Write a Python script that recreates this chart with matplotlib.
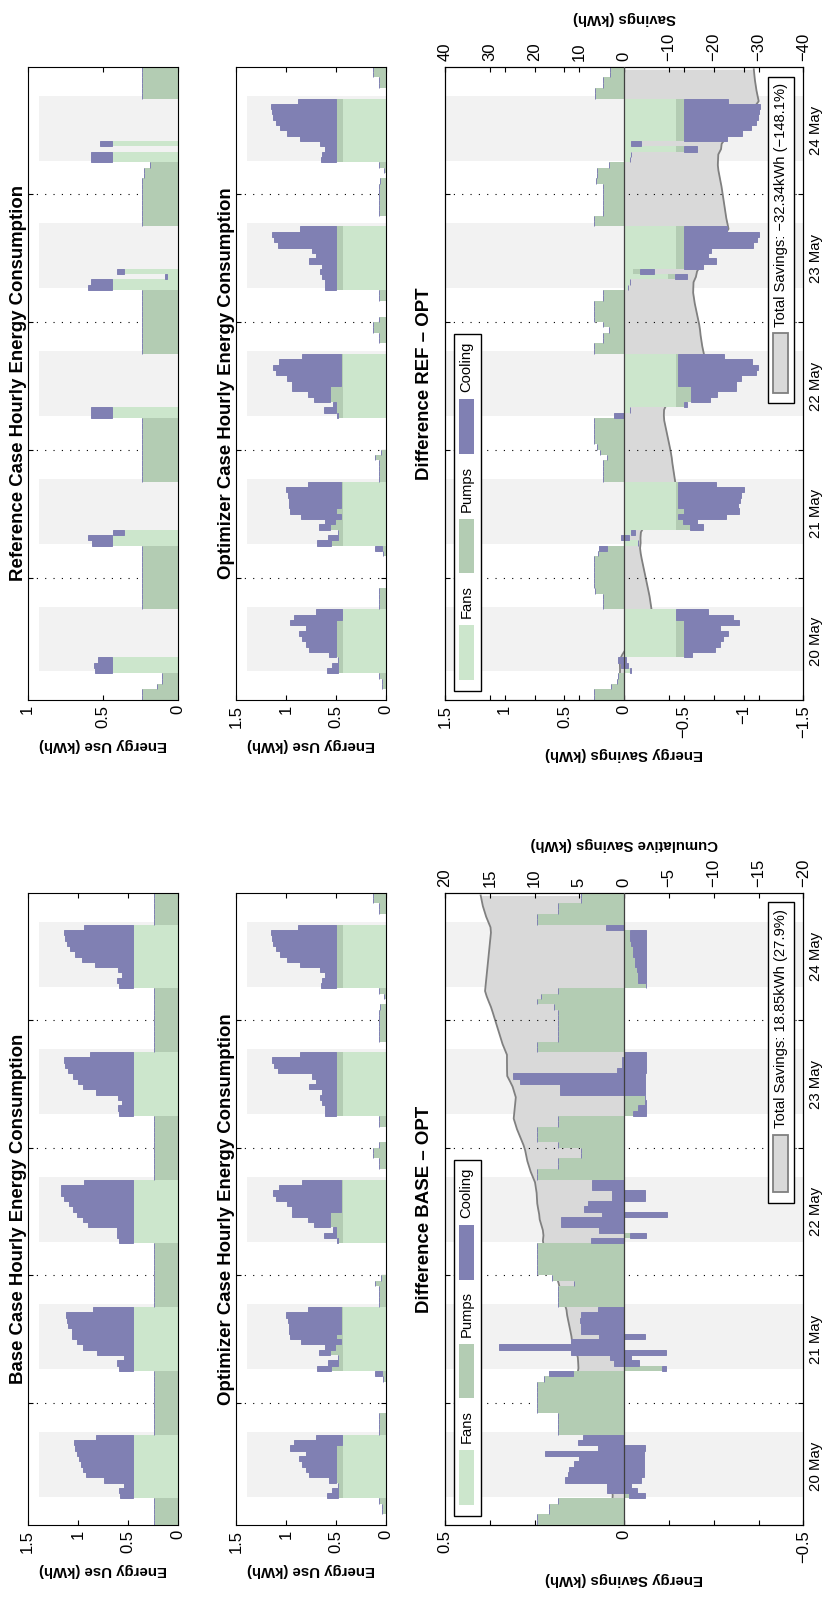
import numpy as np
import matplotlib
matplotlib.use("Agg")
import matplotlib.pyplot as plt
from matplotlib.patches import Rectangle

plt.rcParams['font.family'] = ['Liberation Sans', 'DejaVu Sans']
plt.rcParams['axes.unicode_minus'] = True

FANS = '#cce6cc'
PUMPS = '#b3ccb3'
COOL = '#8080b3'
SHADE = '#f2f2f2'
AREA = '#d9d9d9'
AREA_LINE = '#808080'

# ---- data: one value per hour, 5 days x 24 h (one row per day) ----
day_labels = ['20 May', '21 May', '22 May', '23 May', '24 May']
day_mid = [12, 36, 60, 84, 108]
midnights = [24, 48, 72, 96]
occ_start = [6.35, 30.35, 54.35, 78.35, 102.35]
occ_end = [18.55, 42.55, 66.55, 90.55, 114.55]

base_fans = [
    0, 0, 0, 0, 0, 0, .44, .44, .44, .44, .44, .44, .44, .44, .44, .44, .44, .44, 0, 0, 0, 0, 0, 0,
    0, 0, 0, 0, 0, 0, .44, .44, .44, .44, .44, .44, .44, .44, .44, .44, .44, .44, 0, 0, 0, 0, 0, 0,
    0, 0, 0, 0, 0, 0, .44, .44, .44, .44, .44, .44, .44, .44, .44, .44, .44, .44, 0, 0, 0, 0, 0, 0,
    0, 0, 0, 0, 0, 0, .44, .44, .44, .44, .44, .44, .44, .44, .44, .44, .44, .44, 0, 0, 0, 0, 0, 0,
    0, 0, 0, 0, 0, 0, .44, .44, .44, .44, .44, .44, .44, .44, .44, .44, .44, .44, 0, 0, 0, 0, 0, 0]
base_pumps = [
    .245, .245, .245, .245, .245, .245, .01, .01, .01, .01, .01, .01, .01, .01, .01, .01, .01, .01, .245, .245, .245, .245, .245, .245,
    .245, .245, .245, .245, .245, .245, .01, .01, .01, .01, .01, .01, .01, .01, .01, .01, .01, .01, .245, .245, .245, .245, .245, .245,
    .245, .245, .245, .245, .245, .245, .01, .01, .01, .01, .01, .01, .01, .01, .01, .01, .01, .01, .245, .245, .245, .245, .245, .245,
    .245, .245, .245, .245, .245, .245, .01, .01, .01, .01, .01, .01, .01, .01, .01, .01, .01, .01, .245, .245, .245, .245, .245, .245,
    .245, .245, .245, .245, .245, .245, .01, .01, .01, .01, .01, .01, .01, .01, .01, .01, .01, .01, .245, .245, .245, .245, .245, .245]
base_cool = [
    0, 0, 0, 0, 0, 0, .13, .14, .09, .29, .47, .50, .52, .54, .56, .58, .59, .37, 0, 0, 0, 0, 0, 0,
    0, 0, 0, 0, 0, 0, .14, .16, .09, .36, .50, .56, .61, .61, .65, .66, .67, .40, 0, 0, 0, 0, 0, 0,
    0, 0, 0, 0, 0, 0, .14, .16, .16, .45, .50, .56, .60, .64, .69, .72, .72, .49, 0, 0, 0, 0, 0, 0,
    0, 0, 0, 0, 0, 0, .14, .15, .11, .15, .37, .50, .55, .60, .65, .68, .69, .43, 0, 0, 0, 0, 0, 0,
    0, 0, 0, 0, 0, 0, .14, .16, .11, .15, .38, .51, .58, .63, .66, .68, .69, .49, 0, 0, 0, 0, 0, 0]

opt_fans = [
    0, 0, 0, 0, 0, 0, .433, .433, .433, .433, .433, .433, .433, .433, .433, .433, .433, .433, 0, 0, 0, 0, 0, 0,
    0, 0, 0, 0, 0, 0, .433, .433, .433, .433, .433, .433, .433, .433, .433, .433, .433, .433, 0, 0, 0, 0, 0, 0,
    0, 0, 0, 0, 0, 0, .433, .433, .433, .433, .433, .433, .433, .433, .433, .433, .433, .433, 0, 0, 0, 0, 0, 0,
    0, 0, 0, 0, 0, 0, .433, .433, .433, .433, .433, .433, .433, .433, .433, .433, .433, .433, 0, 0, 0, 0, 0, 0,
    0, 0, 0, 0, 0, 0, .433, .433, .433, .433, .433, .433, .433, .433, .433, .433, .433, .433, 0, 0, 0, 0, 0, 0]
opt_pumps = [
    0, 0, 0, .04, .04, .065, .043, .043, .043, .067, .067, .067, .067, .067, .067, .067, .005, .005, .066, .066, .066, .066, 0, 0,
    0, 0, 0, 0, .025, .04, .117, .05, .047, .127, .077, .017, .068, .017, .017, .017, .017, .017, .066, .066, .066, .066, .11, .05,
    0, 0, 0, 0, 0, 0, .047, .065, .065, .125, .125, .125, .017, .017, .017, .017, .017, .017, 0, 0, .066, .066, .13, .13,
    .066, 0, 0, 0, .066, .066, .07, .07, .07, .07, .07, .07, .07, .07, .07, .07, .07, .07, 0, 0, .066, .066, .066, .066,
    .066, .066, .055, 0, .018, .066, .07, .07, .07, .07, .07, .07, .07, .07, .07, .07, .07, .07, 0, 0, .066, .066, .13, .13]
opt_cool = [
    0, 0, 0, 0, 0, 0, .117, .064, .004, .07, .27, .30, .34, .37, .30, .46, .482, .262, 0, 0, 0, 0, 0, 0,
    0, 0, 0, 0, 0, .065, .14, .097, 0, .11, .10, .40, .459, .52, .52, .53, .55, .33, 0, 0, 0, 0, 0, 0,
    0, 0, 0, 0, 0, 0, .01, .122, .032, .162, .222, .382, .49, .54, .65, .68, .62, .39, 0, 0, 0, 0, 0, 0,
    0, 0, 0, 0, 0, 0, .107, .107, .137, .157, .137, .267, .197, .237, .577, .617, .637, .357, 0, 0, 0, 0, 0, 0,
    0, 0, 0, 0, 0, 0, .147, .137, .107, .157, .357, .487, .557, .597, .627, .637, .647, .377, 0, 0, 0, 0, 0, 0]

ref_fans = [
    0, 0, 0, 0, 0, 0, .44, .44, .44, 0, 0, 0, 0, 0, 0, 0, 0, 0, 0, 0, 0, 0, 0, 0,
    0, 0, 0, 0, 0, 0, .44, .44, .36, 0, 0, 0, 0, 0, 0, 0, 0, 0, 0, 0, 0, 0, 0, 0,
    0, 0, 0, 0, 0, 0, .44, .44, 0, 0, 0, 0, 0, 0, 0, 0, 0, 0, 0, 0, 0, 0, 0, 0,
    0, 0, 0, 0, 0, 0, .44, .44, .075, .36, 0, 0, 0, 0, 0, 0, 0, 0, 0, 0, 0, 0, 0, 0,
    0, 0, 0, 0, 0, 0, .44, .44, 0, .44, 0, 0, 0, 0, 0, 0, 0, 0, 0, 0, 0, 0, 0, 0]
ref_pumps = [
    .24, .24, .24, .14, .11, .11, 0, 0, 0, 0, 0, 0, 0, 0, 0, 0, 0, 0, .24, .24, .24, .24, .24, .24,
    .24, .24, .24, .24, .24, .24, 0, 0, 0, 0, 0, 0, 0, 0, 0, 0, 0, 0, .24, .24, .24, .24, .24, .24,
    .24, .24, .24, .24, .24, .24, 0, 0, 0, 0, 0, 0, 0, 0, 0, 0, 0, 0, .24, .24, .24, .24, .24, .24,
    .24, .24, .24, .24, .24, .24, 0, 0, 0, 0, 0, 0, 0, 0, 0, 0, 0, 0, .24, .24, .24, .24, .24, .24,
    .24, .24, .24, .23, .23, .19, 0, 0, 0, 0, 0, 0, 0, 0, 0, 0, 0, 0, .24, .24, .24, .24, .24, .24]
ref_cool = [
    0, 0, 0, 0, 0, 0, .11, .12, .09, 0, 0, 0, 0, 0, 0, 0, 0, 0, 0, 0, 0, 0, 0, 0,
    0, 0, 0, 0, 0, 0, .13, .16, .07, 0, 0, 0, 0, 0, 0, 0, 0, 0, 0, 0, 0, 0, 0, 0,
    0, 0, 0, 0, 0, 0, .14, .14, 0, 0, 0, 0, 0, 0, 0, 0, 0, 0, 0, 0, 0, 0, 0, 0,
    0, 0, 0, 0, 0, 0, .16, .14, .01, .05, 0, 0, 0, 0, 0, 0, 0, 0, 0, 0, 0, 0, 0, 0,
    0, 0, 0, 0, 0, 0, .14, .14, 0, .08, 0, 0, 0, 0, 0, 0, 0, 0, 0, 0, 0, 0, 0, 0]

# difference BASE - OPT per component
dbase_fans = [
    0, 0, 0, 0, 0, 0, 0, 0, 0, 0, 0, 0, 0, 0, 0, 0, 0, 0, 0, 0, 0, 0, 0, 0,
    0, 0, 0, 0, 0, 0, 0, 0, 0, 0, 0, 0, 0, 0, 0, 0, 0, 0, 0, 0, 0, 0, 0, 0,
    0, 0, 0, 0, 0, 0, 0, 0, 0, 0, 0, 0, 0, 0, 0, 0, 0, 0, 0, 0, 0, 0, 0, 0,
    0, 0, 0, 0, 0, 0, 0, 0, 0, 0, 0, 0, 0, 0, 0, 0, 0, 0, 0, 0, 0, 0, 0, 0,
    0, 0, 0, 0, 0, 0, 0, 0, 0, 0, 0, 0, 0, 0, 0, 0, 0, 0, 0, 0, 0, 0, 0, 0]
dbase_pumps = [
    .244, .244, .244, .21, .21, .184, -.014, -.035, -.018, -.046, -.054, -.054, -.054, -.054, -.056, -.058, 0, 0, .184, .184, .184, .184, .244, .244,
    .244, .244, .244, .244, .225, .209, -.105, -.042, -.018, -.117, 0, 0, -.058, 0, 0, 0, 0, 0, .184, .184, .184, .184, .139, .2,
    .244, .244, .244, .244, .244, .244, 0, -.017, 0, 0, 0, -.119, 0, 0, -.058, -.058, 0, 0, .244, .244, .184, .184, .121, .121,
    .184, .244, .244, .244, .184, .184, -.025, -.04, -.058, -.058, -.058, -.058, -.058, -.058, -.06, -.06, -.06, -.06, .244, .244, .184, .184, .184, .184,
    .184, .184, .195, .244, .232, .184, -.06, -.04, -.04, -.035, -.03, -.03, -.026, -.026, -.02, -.017, -.017, 0, .244, .244, .184, .184, .121, .121]
dbase_cool = [
    0, 0, 0, 0, 0, 0, -.044, .084, .067, .211, .21, .207, .194, .179, .277, .13, .128, .114, 0, 0, 0, 0, 0, 0,
    0, 0, 0, 0, 0, -.065, -.012, .07, .058, .265, .348, .148, .128, .12, .12, .123, .12, .072, 0, 0, 0, 0, 0, 0,
    0, 0, 0, 0, 0, 0, .092, -.045, .07, .175, .175, .18, .112, .1, .093, .093, .09, .09, 0, 0, 0, 0, 0, 0,
    0, 0, 0, 0, 0, 0, -.035, -.02, -.002, 0, .237, .237, .348, .368, .08, .065, .065, .06, 0, 0, 0, 0, 0, 0,
    0, 0, 0, 0, 0, 0, 0, -.02, -.02, -.025, -.03, -.03, -.034, -.034, -.04, -.043, -.043, .05, 0, 0, 0, 0, 0, 0]

# difference REF - OPT per component
dref_fans = [
    0, 0, 0, 0, 0, 0, -.05, 0, 0, -.433, -.433, -.433, -.433, -.433, -.433, -.433, -.433, -.433, 0, 0, 0, 0, 0, 0,
    0, 0, 0, 0, 0, 0, -.12, 0, -.06, -.433, -.433, -.433, -.433, -.433, -.433, -.433, -.433, -.433, 0, 0, 0, 0, 0, 0,
    0, 0, 0, 0, 0, 0, 0, -.05, -.433, -.433, -.433, -.433, -.433, -.433, -.433, -.433, -.433, -.433, 0, 0, 0, 0, 0, 0,
    0, 0, 0, 0, 0, 0, -.035, -.05, -.365, -.07, -.433, -.433, -.433, -.433, -.433, -.433, -.433, -.433, 0, 0, 0, 0, 0, 0,
    0, 0, 0, 0, 0, 0, -.05, -.06, -.433, -.058, -.433, -.433, -.433, -.433, -.433, -.433, -.433, -.433, 0, 0, 0, 0, 0, 0]
dref_pumps = [
    .25, .25, .25, .107, .063, .05, 0, -.035, -.015, -.067, -.067, -.067, -.067, -.067, -.067, -.067, -.005, -.005, .18, .18, .18, .245, .25, .25,
    .25, .25, .25, .25, .22, .208, 0, -.04, 0, -.12, -.06, -.017, -.068, -.017, -.017, -.017, -.017, -.017, .18, .18, .18, .18, .14, .2,
    .23, .25, .25, .25, .25, .25, 0, 0, -.065, -.125, -.125, -.125, -.017, -.017, -.017, -.017, -.017, -.017, .25, .25, .18, .18, .125, .18,
    .25, .25, .25, .25, .18, .18, 0, 0, -.06, -.06, -.07, -.07, -.07, -.07, -.07, -.07, -.07, -.07, .25, .25, .18, .18, .18, .18,
    .18, .18, .235, .225, .23, .13, 0, 0, -.07, 0, -.07, -.07, -.07, -.07, -.07, -.07, -.07, -.07, .245, .245, .18, .18, .12, .12]
dref_cool = [
    0, 0, 0, 0, 0, 0, -.005, .065, .065, -.065, -.26, -.30, -.33, -.37, -.30, -.46, -.477, -.262, 0, 0, 0, 0, 0, 0,
    0, 0, 0, 0, 0, -.062, 0, .07, -.03, -.107, -.117, -.40, -.459, -.50, -.52, -.53, -.55, -.32, 0, 0, 0, 0, 0, 0,
    0, 0, 0, 0, 0, 0, .085, 0, -.032, -.162, -.222, -.382, -.49, -.53, -.65, -.67, -.62, -.39, 0, 0, 0, 0, 0, 0,
    0, 0, 0, 0, 0, 0, 0, 0, -.105, -.12, -.157, -.267, -.197, -.227, -.577, -.607, -.627, -.357, 0, 0, 0, 0, 0, 0,
    0, 0, 0, 0, 0, 0, 0, 0, -.107, -.08, -.357, -.487, -.557, -.597, -.617, -.627, -.637, -.367, 0, 0, 0, 0, 0, 0]

hours = np.arange(len(base_fans))
TICK_FS = 12
DATE_FS = 10.8
LEG_FS = 10.6
LAB_FS = 10.8
TITLE_FS = 13.4


def fmt(v):
    return f'{v:g}'.replace('-', '\u2212')


def stack_bars(ax, fans, pumps, cool):
    f = np.array(fans, dtype=float)
    p = np.array(pumps, dtype=float)
    c = np.array(cool, dtype=float)
    y = hours + 0.5
    ax.barh(y, f, height=1.0, color=FANS, linewidth=0, zorder=2)
    ax.barh(y, p, left=f, height=1.0, color=PUMPS, linewidth=0, zorder=2)
    ax.barh(y, c, left=f + p, height=1.0, color=COOL, edgecolor=COOL,
            linewidth=0.7, zorder=2)
    return f + p + c


def style_axes(ax, lim, ticks, with_dates):
    ax.set_xlim(lim[0], lim[1])
    ax.set_xticks(ticks)
    ax.set_xticklabels([fmt(t) for t in ticks])
    ax.tick_params(axis='x', direction='in', length=3.5, top=True, bottom=True,
                   labelrotation=90, labelsize=TICK_FS, pad=3.5)
    ax.set_yticks(midnights)
    ax.set_yticklabels([])
    ax.tick_params(axis='y', which='major', direction='in', length=3.5,
                   left=True, right=True)
    ax.yaxis.grid(True, which='major', linestyle=(0, (1, 6.5)),
                  color='black', linewidth=0.8)
    ax.set_axisbelow(True)
    if with_dates:
        ax.set_yticks(day_mid, minor=True)
        ax.set_yticklabels(day_labels, minor=True, rotation=90, va='center')
        ax.tick_params(axis='y', which='minor', length=0, labelleft=False,
                       labelright=True, labelsize=DATE_FS, pad=4)
    for s in ax.spines.values():
        s.set_linewidth(0.8)


def energy_panel(rect, fans, pumps, cool, vmax, ticks, title):
    ax = fig.add_axes(rect)
    for s, e in zip(occ_start, occ_end):
        ax.axhspan(s, e, xmin=0.075, xmax=1.0, color=SHADE, lw=0, zorder=0)
    stack_bars(ax, fans, pumps, cool)
    style_axes(ax, (vmax, 0), ticks, False)
    ax.set_ylim(1, 120)
    ax.set_xlabel('Energy Use (kWh)', rotation=180, fontsize=LAB_FS,
                  fontweight='bold', labelpad=7)
    ax.text(-0.005, 0.5, title, rotation=90, ha='right', va='center',
            transform=ax.transAxes, fontsize=TITLE_FS, fontweight='bold')
    return ax


def bar_legend(ax):
    ax.add_patch(Rectangle((0.025, 0.014), 0.0755, 0.564, transform=ax.transAxes,
                           facecolor='white', edgecolor='black', lw=1.0, zorder=6))
    entries = [('Fans', FANS, 0.032, 0.119, 0.130),
               ('Pumps', PUMPS, 0.201, 0.286, 0.297),
               ('Cooling', COOL, 0.388, 0.475, 0.486)]
    for name, col, y0, y1, ty in entries:
        ax.add_patch(Rectangle((0.040, y0), 0.041, y1 - y0, transform=ax.transAxes,
                               facecolor=col, edgecolor='none', zorder=7))
        ax.text(0.0605, ty, name, rotation=90, ha='center', va='bottom',
                transform=ax.transAxes, fontsize=LEG_FS, zorder=7)


def total_legend(ax, text, box_y0, box_y1, patch_y0, patch_y1, text_y):
    ax.add_patch(Rectangle((0.902, box_y0), 0.072, box_y1 - box_y0,
                           transform=ax.transAxes, facecolor='white',
                           edgecolor='black', lw=1.0, zorder=6))
    ax.add_patch(Rectangle((0.916, patch_y0), 0.041, patch_y1 - patch_y0,
                           transform=ax.transAxes, facecolor=AREA,
                           edgecolor=AREA_LINE, lw=1.3, zorder=7))
    ax.text(0.938, text_y, text, rotation=90, ha='center', va='bottom',
            transform=ax.transAxes, fontsize=LEG_FS, zorder=7)


def diff_panel(rect, fans, pumps, cool, lim, ticks, cum_lim, cum_ticks,
               title, cum_label):
    ax = fig.add_axes(rect)
    ax2 = ax.twiny()
    ax2.set_zorder(0)
    ax.set_zorder(1)
    ax.patch.set_visible(False)
    ax2.patch.set_visible(True)
    ax2.patch.set_facecolor('white')
    for s, e in zip(occ_start, occ_end):
        ax2.axhspan(s, e, color=SHADE, lw=0, zorder=0)

    total = stack_bars(ax, fans, pumps, cool)
    cum = np.cumsum(total)
    y = hours + 0.5
    ax2.fill_betweenx(y, 0, cum, color=AREA, lw=0, zorder=1)
    ax2.plot(cum, y, color=AREA_LINE, lw=1.3, zorder=2)
    ax.axvline(0, color='#404040', lw=0.9, zorder=3)

    style_axes(ax, (lim, -lim), ticks, True)
    ax2.set_xlim(cum_lim, -cum_lim)
    ax2.set_xticks(cum_ticks)
    ax2.set_xticklabels([fmt(t) for t in cum_ticks])
    ax2.tick_params(axis='x', direction='in', length=3.5, top=True, bottom=True,
                    labeltop=True, labelbottom=False, labelrotation=90,
                    labelsize=TICK_FS, pad=4)
    for s in ax2.spines.values():
        s.set_linewidth(0.8)
    ax.set_ylim(1, 120)

    ax.set_xlabel('Energy Savings (kWh)', rotation=180, fontsize=LAB_FS,
                  fontweight='bold', labelpad=7)
    ax2.set_xlabel(cum_label, rotation=180, fontsize=LAB_FS,
                   fontweight='bold', labelpad=8)
    ax.text(-0.034, 0.5, title, rotation=90, ha='right', va='center',
            transform=ax.transAxes, fontsize=TITLE_FS, fontweight='bold')
    bar_legend(ax)
    return ax


fig = plt.figure(figsize=(8.36, 15.97), dpi=100)

bot_b, bot_h = 0.04508, 0.3959
top_b, top_h = 0.5617, 0.3966
x1, w1 = 0.0331, 0.1801
x2, w2 = 0.2823, 0.1794
x3, w3 = 0.5323, 0.4286

# lower half: BASE vs OPT
energy_panel([x1, bot_b, w1, bot_h], base_fans, base_pumps, base_cool, 1.5,
             [0, 0.5, 1, 1.5], 'Base Case Hourly Energy Consumption')
energy_panel([x2, bot_b, w2, bot_h], opt_fans, opt_pumps, opt_cool, 1.5,
             [0, 0.5, 1, 1.5], 'Optimizer Case Hourly Energy Consumption')
axb = diff_panel([x3, bot_b, w3, bot_h], dbase_fans, dbase_pumps, dbase_cool,
                 0.5, [-0.5, 0, 0.5], 20, [-20, -15, -10, -5, 0, 5, 10, 15, 20],
                 'Difference BASE \u2013 OPT', 'Cumulative Savings (kWh)')
total_legend(axb, 'Total Savings: 18.85kWh (27.9%)', 0.509, 0.986, 0.527, 0.617, 0.628)

# upper half: REF vs OPT
energy_panel([x1, top_b, w1, top_h], ref_fans, ref_pumps, ref_cool, 1.0,
             [0, 0.5, 1], 'Reference Case Hourly Energy Consumption')
energy_panel([x2, top_b, w2, top_h], opt_fans, opt_pumps, opt_cool, 1.5,
             [0, 0.5, 1, 1.5], 'Optimizer Case Hourly Energy Consumption')
axt = diff_panel([x3, top_b, w3, top_h], dref_fans, dref_pumps, dref_cool,
                 1.5, [-1.5, -1, -0.5, 0, 0.5, 1, 1.5], 40,
                 [-40, -30, -20, -10, 0, 10, 20, 30, 40],
                 'Difference REF \u2013 OPT', 'Savings (kWh)')
total_legend(axt, 'Total Savings: \u221232.34kWh (\u2212148.1%)', 0.469, 0.984, 0.485, 0.579, 0.589)

fig.savefig('out.png', dpi=100)
